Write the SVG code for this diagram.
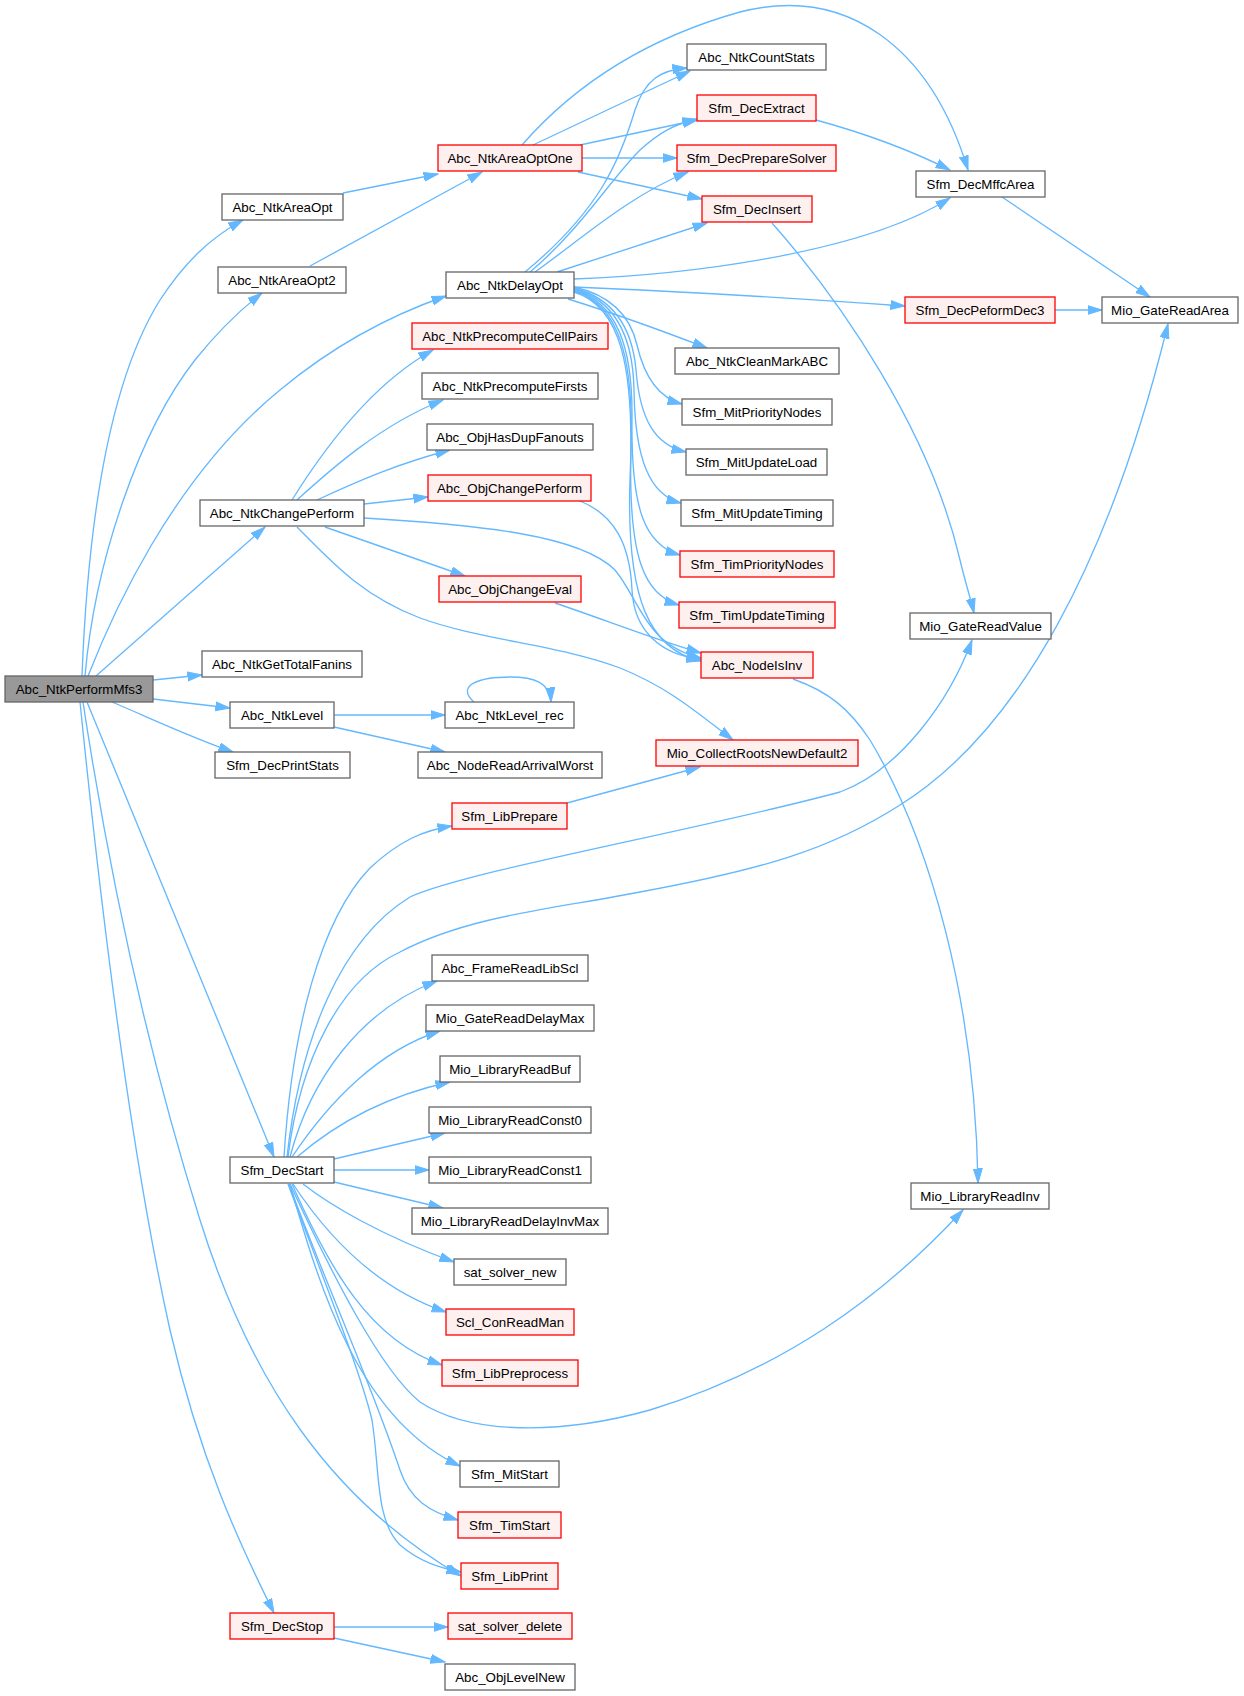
<svg xmlns="http://www.w3.org/2000/svg" width="1244" height="1696" viewBox="0 0 1244 1696">
<style>
.n rect{fill:#ffffff;stroke:#666666;stroke-width:1.3}
.r rect{fill:#fff0f0;stroke:#ff0000;stroke-width:1.3}
.g rect{fill:#999999;stroke:#666666;stroke-width:1.3}
text{font-family:"Liberation Sans",Arial,Helvetica,sans-serif;font-size:13.33px;fill:#000000;text-anchor:middle}
#edges path{fill:none;stroke:#63b8ff;stroke-width:1.33;marker-end:url(#ah)}
</style>
<defs>
<marker id="ah" markerUnits="userSpaceOnUse" markerWidth="16" markerHeight="11" refX="14.5" refY="5" orient="auto">
<path d="M0,0.5 L14.5,5 L0,9.5 z" fill="#63b8ff" stroke="#63b8ff" stroke-width="1"/>
</marker>
</defs>
<rect width="1244" height="1696" fill="#ffffff"/>
<g id="edges">
<path d="M82,676 C88,520 110,380 160,300 C185,262 210,238 243,220"/>
<path d="M85,676 C95,560 140,430 195,360 C215,335 240,310 262,293"/>
<path d="M88,676 C110,620 170,480 280,390 C340,340 400,312 446,296"/>
<path d="M96,676 L265,527"/>
<path d="M153,680 L202,675"/>
<path d="M153,699 L230,708"/>
<path d="M112,702 C150,718 190,737 233,752"/>
<path d="M87,702 L274,1157"/>
<path d="M83,702 C110,880 150,1060 200,1220 C250,1380 330,1500 461,1576"/>
<path d="M80,702 C100,900 130,1150 170,1330 C200,1460 240,1545 274,1613"/>
<path d="M343,193 L438,174"/>
<path d="M310,266 L482,172"/>
<path d="M522,145 C570,90 640,40 740,12 C845,-15 930,45 968,170"/>
<path d="M533,145 L690,71"/>
<path d="M580,145 L697,120"/>
<path d="M582,158 L677,158"/>
<path d="M578,172 L702,199"/>
<path d="M525,272 C600,210 620,160 635,110 C645,80 660,70 687,68"/>
<path d="M530,272 C580,230 610,180 640,150 C660,132 675,124 697,119"/>
<path d="M535,272 C580,240 630,195 688,172"/>
<path d="M557,272 L707,223"/>
<path d="M574,279 C680,275 860,255 950,198"/>
<path d="M574,287 C700,292 820,300 905,306"/>
<path d="M568,299 C610,312 660,330 707,348"/>
<path d="M574,287 C610,295 630,315 637,345 C645,380 660,398 682,404"/>
<path d="M574,288 C612,298 632,325 636,370 C640,420 655,445 686,452"/>
<path d="M574,289 C614,300 633,335 634,390 C635,460 650,495 681,503"/>
<path d="M574,290 C616,302 633,345 632,420 C631,510 645,545 680,555"/>
<path d="M574,291 C618,304 634,355 631,450 C628,560 645,595 679,605"/>
<path d="M574,292 C620,306 635,365 630,480 C626,600 650,650 701,661"/>
<path d="M292,500 C320,455 370,385 433,350"/>
<path d="M297,500 C330,470 380,425 443,400"/>
<path d="M317,500 C360,480 400,463 450,450"/>
<path d="M364,504 L428,497"/>
<path d="M364,518 C480,525 580,535 615,570 C640,600 645,645 701,658"/>
<path d="M325,527 L465,576"/>
<path d="M297,527 C330,560 360,595 420,618 C480,640 560,645 620,668 C670,688 700,715 733,740"/>
<path d="M580,501 C615,515 630,545 632,590 C634,630 660,655 701,659"/>
<path d="M555,603 C600,618 650,638 701,653"/>
<path d="M334,715 L445,715"/>
<path d="M334,727 L445,752"/>
<path d="M474,702 C455,685 480,677 510,677 C535,677 550,683 551,702"/>
<path d="M816,120 C860,132 910,150 950,170"/>
<path d="M772,223 C840,300 930,430 960,560 C966,585 971,600 974,613"/>
<path d="M1002,197 L1150,297"/>
<path d="M1055,310 L1102,310"/>
<path d="M793,679 C830,692 850,710 870,740 C930,840 975,1000 978,1183"/>
<path d="M567,803 L700,767"/>
<path d="M284,1157 C292,1030 320,920 370,868 C400,840 425,830 452,826"/>
<path d="M287,1157 C300,1040 340,940 410,897 C470,870 700,830 840,792 C900,770 950,700 972,640"/>
<path d="M288,1157 C300,1060 340,980 400,952 C470,915 560,908 640,892 C760,870 830,850 900,805 C1020,730 1110,560 1168,324"/>
<path d="M290,1157 C310,1080 360,1010 437,981"/>
<path d="M292,1157 C330,1100 380,1050 440,1031"/>
<path d="M297,1157 C340,1120 390,1095 450,1082"/>
<path d="M334,1159 L445,1133"/>
<path d="M334,1170 L429,1170"/>
<path d="M334,1182 L443,1208"/>
<path d="M303,1184 C330,1205 380,1235 454,1262"/>
<path d="M293,1184 C330,1240 380,1290 446,1312"/>
<path d="M292,1184 C330,1270 370,1340 442,1365"/>
<path d="M290,1184 C330,1270 380,1370 420,1402 C470,1435 560,1435 650,1410 C780,1370 880,1300 963,1210"/>
<path d="M290,1184 C320,1290 360,1420 460,1466"/>
<path d="M289,1184 C320,1270 370,1380 400,1470 C410,1500 430,1512 458,1520"/>
<path d="M288,1184 C320,1270 360,1370 372,1420 C380,1470 375,1520 400,1545 C420,1562 440,1568 461,1572"/>
<path d="M334,1627 L448,1627"/>
<path d="M334,1638 L445,1662"/>
</g>
<g id="n_Abc_NtkPerformMfs3" class="g"><rect x="5" y="676" width="148" height="26"/><text x="79" y="694">Abc_NtkPerformMfs3</text></g>
<g id="n_Abc_NtkAreaOpt" class="n"><rect x="222" y="194" width="121" height="26"/><text x="282.5" y="212">Abc_NtkAreaOpt</text></g>
<g id="n_Abc_NtkAreaOpt2" class="n"><rect x="218" y="267" width="128" height="26"/><text x="282" y="285">Abc_NtkAreaOpt2</text></g>
<g id="n_Abc_NtkChangePerform" class="n"><rect x="200" y="500" width="164" height="26"/><text x="282" y="518">Abc_NtkChangePerform</text></g>
<g id="n_Abc_NtkGetTotalFanins" class="n"><rect x="202" y="651" width="160" height="26"/><text x="282" y="669">Abc_NtkGetTotalFanins</text></g>
<g id="n_Abc_NtkLevel" class="n"><rect x="230" y="702" width="104" height="26"/><text x="282" y="720">Abc_NtkLevel</text></g>
<g id="n_Sfm_DecPrintStats" class="n"><rect x="215" y="752" width="135" height="26"/><text x="282.5" y="770">Sfm_DecPrintStats</text></g>
<g id="n_Sfm_DecStart" class="n"><rect x="230" y="1157" width="104" height="26"/><text x="282" y="1175">Sfm_DecStart</text></g>
<g id="n_Sfm_DecStop" class="r"><rect x="230" y="1613" width="104" height="26"/><text x="282" y="1631">Sfm_DecStop</text></g>
<g id="n_Abc_NtkAreaOptOne" class="r"><rect x="438" y="145" width="144" height="26"/><text x="510" y="163">Abc_NtkAreaOptOne</text></g>
<g id="n_Abc_NtkCountStats" class="n"><rect x="687" y="44" width="139" height="26"/><text x="756.5" y="62">Abc_NtkCountStats</text></g>
<g id="n_Sfm_DecExtract" class="r"><rect x="697" y="95" width="119" height="26"/><text x="756.5" y="113">Sfm_DecExtract</text></g>
<g id="n_Sfm_DecPrepareSolver" class="r"><rect x="677" y="145" width="159" height="26"/><text x="756.5" y="163">Sfm_DecPrepareSolver</text></g>
<g id="n_Sfm_DecInsert" class="r"><rect x="702" y="196" width="110" height="26"/><text x="757" y="214">Sfm_DecInsert</text></g>
<g id="n_Sfm_DecMffcArea" class="n"><rect x="916" y="171" width="129" height="26"/><text x="980.5" y="189">Sfm_DecMffcArea</text></g>
<g id="n_Mio_GateReadArea" class="n"><rect x="1102" y="297" width="136" height="26"/><text x="1170" y="315">Mio_GateReadArea</text></g>
<g id="n_Sfm_DecPeformDec3" class="r"><rect x="905" y="297" width="150" height="26"/><text x="980" y="315">Sfm_DecPeformDec3</text></g>
<g id="n_Abc_NtkDelayOpt" class="n"><rect x="446" y="272" width="128" height="26"/><text x="510" y="290">Abc_NtkDelayOpt</text></g>
<g id="n_Abc_NtkPrecomputeCellPairs" class="r"><rect x="412" y="323" width="196" height="26"/><text x="510" y="341">Abc_NtkPrecomputeCellPairs</text></g>
<g id="n_Abc_NtkCleanMarkABC" class="n"><rect x="675" y="348" width="164" height="26"/><text x="757" y="366">Abc_NtkCleanMarkABC</text></g>
<g id="n_Abc_NtkPrecomputeFirsts" class="n"><rect x="422" y="373" width="176" height="26"/><text x="510" y="391">Abc_NtkPrecomputeFirsts</text></g>
<g id="n_Sfm_MitPriorityNodes" class="n"><rect x="682" y="399" width="150" height="26"/><text x="757" y="417">Sfm_MitPriorityNodes</text></g>
<g id="n_Abc_ObjHasDupFanouts" class="n"><rect x="427" y="424" width="166" height="26"/><text x="510" y="442">Abc_ObjHasDupFanouts</text></g>
<g id="n_Sfm_MitUpdateLoad" class="n"><rect x="686" y="449" width="141" height="26"/><text x="756.5" y="467">Sfm_MitUpdateLoad</text></g>
<g id="n_Abc_ObjChangePerform" class="r"><rect x="428" y="475" width="163" height="26"/><text x="509.5" y="493">Abc_ObjChangePerform</text></g>
<g id="n_Sfm_MitUpdateTiming" class="n"><rect x="681" y="500" width="152" height="26"/><text x="757" y="518">Sfm_MitUpdateTiming</text></g>
<g id="n_Sfm_TimPriorityNodes" class="r"><rect x="680" y="551" width="154" height="26"/><text x="757" y="569">Sfm_TimPriorityNodes</text></g>
<g id="n_Abc_ObjChangeEval" class="r"><rect x="439" y="576" width="142" height="26"/><text x="510" y="594">Abc_ObjChangeEval</text></g>
<g id="n_Sfm_TimUpdateTiming" class="r"><rect x="679" y="602" width="156" height="26"/><text x="757" y="620">Sfm_TimUpdateTiming</text></g>
<g id="n_Abc_NodeIsInv" class="r"><rect x="701" y="652" width="112" height="26"/><text x="757" y="670">Abc_NodeIsInv</text></g>
<g id="n_Mio_GateReadValue" class="n"><rect x="910" y="613" width="141" height="26"/><text x="980.5" y="631">Mio_GateReadValue</text></g>
<g id="n_Abc_NtkLevel_rec" class="n"><rect x="445" y="702" width="129" height="26"/><text x="509.5" y="720">Abc_NtkLevel_rec</text></g>
<g id="n_Mio_CollectRootsNewDefault2" class="r"><rect x="656" y="740" width="202" height="26"/><text x="757" y="758">Mio_CollectRootsNewDefault2</text></g>
<g id="n_Abc_NodeReadArrivalWorst" class="n"><rect x="418" y="752" width="184" height="26"/><text x="510" y="770">Abc_NodeReadArrivalWorst</text></g>
<g id="n_Sfm_LibPrepare" class="r"><rect x="452" y="803" width="115" height="26"/><text x="509.5" y="821">Sfm_LibPrepare</text></g>
<g id="n_Abc_FrameReadLibScl" class="n"><rect x="432" y="955" width="156" height="26"/><text x="510" y="973">Abc_FrameReadLibScl</text></g>
<g id="n_Mio_GateReadDelayMax" class="n"><rect x="426" y="1005" width="168" height="26"/><text x="510" y="1023">Mio_GateReadDelayMax</text></g>
<g id="n_Mio_LibraryReadBuf" class="n"><rect x="440" y="1056" width="140" height="26"/><text x="510" y="1074">Mio_LibraryReadBuf</text></g>
<g id="n_Mio_LibraryReadConst0" class="n"><rect x="429" y="1107" width="162" height="26"/><text x="510" y="1125">Mio_LibraryReadConst0</text></g>
<g id="n_Mio_LibraryReadConst1" class="n"><rect x="429" y="1157" width="162" height="26"/><text x="510" y="1175">Mio_LibraryReadConst1</text></g>
<g id="n_Mio_LibraryReadDelayInvMax" class="n"><rect x="412" y="1208" width="196" height="26"/><text x="510" y="1226">Mio_LibraryReadDelayInvMax</text></g>
<g id="n_sat_solver_new" class="n"><rect x="454" y="1259" width="112" height="26"/><text x="510" y="1277">sat_solver_new</text></g>
<g id="n_Scl_ConReadMan" class="r"><rect x="446" y="1309" width="128" height="26"/><text x="510" y="1327">Scl_ConReadMan</text></g>
<g id="n_Sfm_LibPreprocess" class="r"><rect x="442" y="1360" width="136" height="26"/><text x="510" y="1378">Sfm_LibPreprocess</text></g>
<g id="n_Sfm_MitStart" class="n"><rect x="460" y="1461" width="99" height="26"/><text x="509.5" y="1479">Sfm_MitStart</text></g>
<g id="n_Sfm_TimStart" class="r"><rect x="458" y="1512" width="103" height="26"/><text x="509.5" y="1530">Sfm_TimStart</text></g>
<g id="n_Sfm_LibPrint" class="r"><rect x="461" y="1563" width="97" height="26"/><text x="509.5" y="1581">Sfm_LibPrint</text></g>
<g id="n_sat_solver_delete" class="r"><rect x="448" y="1613" width="124" height="26"/><text x="510" y="1631">sat_solver_delete</text></g>
<g id="n_Abc_ObjLevelNew" class="n"><rect x="445" y="1664" width="130" height="26"/><text x="510" y="1682">Abc_ObjLevelNew</text></g>
<g id="n_Mio_LibraryReadInv" class="n"><rect x="911" y="1183" width="138" height="26"/><text x="980" y="1201">Mio_LibraryReadInv</text></g>
</svg>
